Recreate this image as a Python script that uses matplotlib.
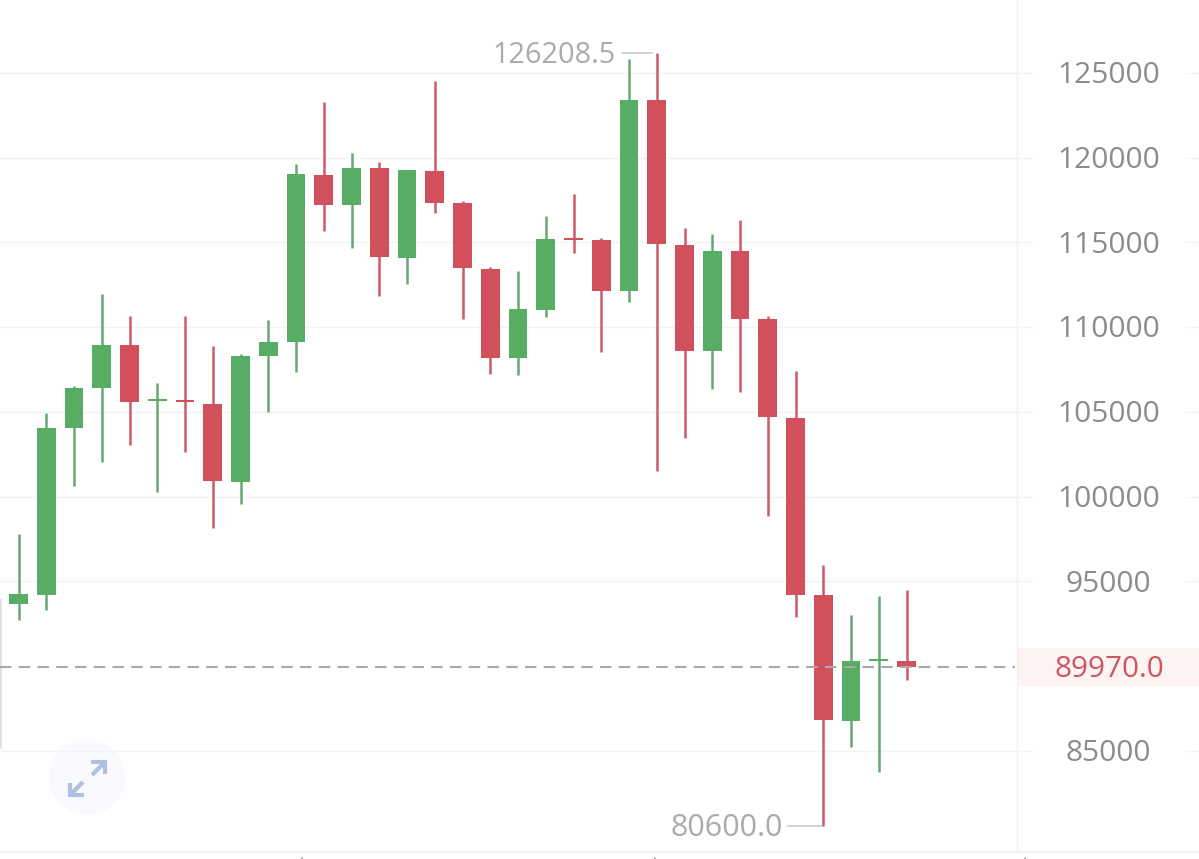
import matplotlib
matplotlib.use("Agg")
import matplotlib.pyplot as plt
from matplotlib.patches import Circle, Rectangle
from matplotlib.transforms import blended_transform_factory

plt.rcParams['font.family'] = ['Open Sans', 'DejaVu Sans']

opens = [93671, 94202, 104055, 106415, 108952, 105648, 105648, 105471, 100869, 108303, 109129,
         118982, 117212, 119395, 114085, 119218, 117330, 113436, 108185, 111017, 115206, 115147,
         112138, 123407, 114852, 108598, 114498, 110486, 104645, 94202, 86768, 90308, 90308]
closes = [94261, 104055, 106415, 108952, 105589, 105707, 105589, 100928, 108303, 109129, 119041,
          117212, 119395, 114144, 119277, 117330, 113495, 108185, 111076, 115206, 115147, 112138,
          123407, 114911, 108598, 114498, 110486, 104704, 94202, 86827, 90308, 90367, 89970]
highs = [97801, 104940, 106533, 111961, 110663, 106710, 110663, 108893, 108421, 110427, 119631,
         123289, 120280, 119749, 119277, 124528, 117448, 113554, 113318, 116563, 117861, 115265,
         125826, 126208.5, 115855, 115501, 116327, 110663, 107418, 95972, 93022, 94143, 94497]
lows = [92727, 93317, 100633, 102049, 103052, 100279, 102639, 98155, 99571, 105000, 107359,
        115678, 114675, 111843, 112551, 116740, 110486, 107241, 107182, 110604, 114380, 108539,
        111489, 101518, 103465, 106356, 106179, 98863, 92904, 80600, 85234, 83759, 89187]
price_ticks = [125000, 120000, 115000, 110000, 105000, 100000, 95000, 85000]
last_price = 89970.0
max_price = 126208.5
min_price = 80600.0

GREEN, RED = '#58ad64', '#d2505c'
WICK_GREEN, WICK_RED = '#66a871', '#cc5a68'
W, H = 1199, 859
fig = plt.figure(figsize=(W / 100, H / 100), dpi=100, facecolor='white')
ax = fig.add_axes([0, 0, 1, 1])
ax.set_xlim(-18.5 / 27.75, (W - 18.5) / 27.75)
ax.set_ylim(129307 - 59 * H, 129307)
ax.axis('off')

# pixel-space overlay for the widget furniture
ov = fig.add_axes([0, 0, 1, 1], facecolor='none')
ov.set_xlim(0, W); ov.set_ylim(H, 0); ov.axis('off')
ax.set_zorder(2); ov.set_zorder(1); ax.patch.set_alpha(0)

tr = blended_transform_factory(ov.transData, ax.transData)


def label(x, p, s, ha, size, color):
    ax.annotate(s, xy=(x, p), xycoords=tr, xytext=(0, 0.7), textcoords='offset points',
                ha=ha, va='center_baseline', fontsize=size, color=color, zorder=5)


# gridlines and price labels
for p in price_ticks:
    ax.plot([0, 1032], [p, p], transform=tr, color='#f3f3f3', lw=1, zorder=1)
    ax.plot([1186, W], [p, p], transform=tr, color='#f3f3f3', lw=1, zorder=1)
    label(1108.5, p, f'{p}', 'center', 21.5, '#8c8c8c')

# furniture
ov.add_patch(Rectangle((1017, 648), W - 1017, 38, fc='#fdf3f1', ec='none'))
ov.plot([1017, 1017], [0, 852], color='#f2f2f2', lw=1)
ov.plot([0, W], [852, 852], color='#f0f0f0', lw=1.2)
for xt in (302, 655, 1025):
    ov.plot([xt, xt], [857.5, 859], color='#aaaaaa', lw=1.2)
ov.plot([0.5, 0.5], [600, 748], color='#dcdcdc', lw=1.2)

# expand button
ov.add_patch(Circle((87, 777), 38, fc='#f8fafd', ec='none'))
ac = '#b0c0e0'
ov.plot([91, 105, 105], [762, 762, 774], color=ac, lw=3, solid_joinstyle='miter', solid_capstyle='butt')
ov.plot([105, 92], [762, 775], color=ac, lw=3, solid_capstyle='butt')
ov.plot([70, 70, 84], [783, 795, 795], color=ac, lw=3, solid_joinstyle='miter', solid_capstyle='butt')
ov.plot([70, 83], [795, 782], color=ac, lw=3, solid_capstyle='butt')

# candles
for i, (o, c, h, l) in enumerate(zip(opens, closes, highs, lows)):
    up = c >= o
    ax.vlines(i, l, h, color=WICK_GREEN if up else WICK_RED, lw=1.8, zorder=3)
    ax.bar(i, max(abs(c - o), 118), bottom=min(o, c), width=0.67,
           color=GREEN if up else RED, lw=0, zorder=4)

# last-price line
ax.plot([0, 1015], [last_price, last_price], transform=tr, color='#a9a9a9', lw=1.5,
        dashes=(5.5, 3.5), zorder=4.5)
label(1109, last_price, f'{last_price:.1f}', 'center', 21.4, '#cf5562')

# extreme labels
ax.plot([622, 652], [max_price, max_price], transform=tr, color='#cccccc', lw=1.2, zorder=2)
label(616, max_price, f'{max_price:.1f}', 'right', 20.8, '#ababab')
ax.plot([788, 822], [min_price, min_price], transform=tr, color='#cccccc', lw=1.2, zorder=2)
label(783, min_price, f'{min_price:.1f}', 'right', 22, '#ababab')

fig.savefig('out.png', dpi=100)
